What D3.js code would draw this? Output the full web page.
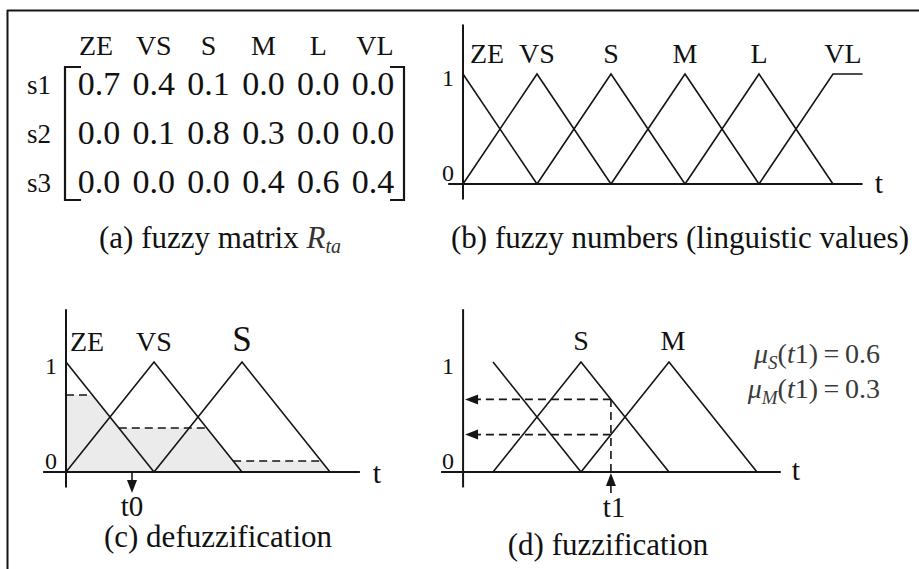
<!DOCTYPE html>
<html><head><meta charset="utf-8">
<script src="https://cdn.jsdelivr.net/npm/d3@7"></script>
<style>
html,body{margin:0;padding:0;background:#fff;}
svg{display:block;}
text{font-family:"Liberation Serif","Times New Roman",serif;fill:#111;}
</style></head><body>
<svg id="fig" width="919" height="569"></svg>
<script>
// linguistic terms and the fuzzy relation matrix R_ta
const terms = ["ZE", "VS", "S", "M", "L", "VL"];
const sensors = ["s1", "s2", "s3"];
const matrixRows = [
  [0.7, 0.4, 0.1, 0.0, 0.0, 0.0],
  [0.0, 0.1, 0.8, 0.3, 0.0, 0.0],
  [0.0, 0.0, 0.0, 0.4, 0.6, 0.4]
];
// centres of the triangular fuzzy numbers on the t axis
const termCentres = [0, 1, 2, 3, 4, 5];
const tEndB = 5.4;
// defuzzification: clip levels come from row s1
const defuzzTerms = ["ZE", "VS", "S"];
const defuzzCentres = [0, 1, 2];
const defuzzLevels = [0.7, 0.4, 0.1];
const t0 = 0.75;
// fuzzification of a crisp value t1
const fuzzTerms = ["VS", "S", "M"];
const fuzzCentres = [1, 2, 3];
const fuzzLabels = ["", "S", "M"];
const t1 = 2.34;
const fuzzResults = [{sub: "S", value: "0.6"}, {sub: "M", value: "0.3"}];
const yTicks = [0, 1];

const svg = d3.select("#fig");
const INK = "#151515";
const LW = 1.6;
const DASH = "8,5";
const tri = (c, t) => Math.max(0, 1 - Math.abs(t - c));

// frame
svg.append("line").attr("x1", 7).attr("x2", 919).attr("y1", 10.5).attr("y2", 10.5)
  .attr("stroke", INK).attr("stroke-width", 2);
svg.append("line").attr("x1", 7.5).attr("x2", 7.5).attr("y1", 10).attr("y2", 569)
  .attr("stroke", INK).attr("stroke-width", 2);

function arrowHead(g, tipX, tipY, dir) {
  const L = 13, W = 5;
  let pts;
  if (dir === "left") pts = [[tipX, tipY], [tipX + L, tipY - W], [tipX + L, tipY + W]];
  else if (dir === "down") pts = [[tipX, tipY], [tipX - W, tipY - L], [tipX + W, tipY - L]];
  else pts = [[tipX, tipY], [tipX - W, tipY + L], [tipX + W, tipY + L]];
  g.append("polygon").attr("points", pts.map(p => p.join(",")).join(" ")).attr("fill", INK);
}

function axesFrame(g, x, y, tMin, tMax, t0v, yMin, yMax, tx, ty) {
  g.append("line").attr("x1", x(tMin)).attr("x2", x(tMax)).attr("y1", y(0)).attr("y2", y(0))
    .attr("stroke", INK).attr("stroke-width", 2);
  g.append("line").attr("x1", x(t0v)).attr("x2", x(t0v)).attr("y1", y(yMin)).attr("y2", y(yMax))
    .attr("stroke", INK).attr("stroke-width", 2);
  g.selectAll("text.tick").data(yTicks).join("text").attr("class", "tick")
    .attr("x", x(t0v) - 15).attr("y", d => y(d) + (d === 1 ? 12 : -3))
    .attr("text-anchor", "middle").attr("font-size", 24).text(d => d);
  g.append("text").attr("x", tx).attr("y", ty).attr("text-anchor", "middle")
    .attr("font-size", 30).text("t");
}

const line = (x, y) => d3.line().x(d => x(d[0])).y(d => y(d[1]));

/* (a) fuzzy matrix */
{
  const g = svg.append("g");
  const col = d3.scalePoint().domain(terms).range([99, 373]);
  const row = d3.scalePoint().domain(sensors).range([95, 193]);
  g.selectAll("text.hd").data(terms).join("text").attr("class", "hd")
    .attr("x", d => col(d) - (d === "ZE" ? 3 : 0) + (d === "VL" ? 2 : 0)).attr("y", 55)
    .attr("text-anchor", "middle").attr("font-size", 28).text(d => d);
  g.selectAll("text.rw").data(sensors).join("text").attr("class", "rw")
    .attr("x", 39).attr("y", d => row(d) - 1)
    .attr("text-anchor", "middle").attr("font-size", 27).text(d => d);
  matrixRows.forEach((vals, i) => {
    g.selectAll("text.v" + i).data(vals).join("text").attr("class", "v" + i)
      .attr("x", (d, j) => col(terms[j])).attr("y", row(sensors[i]))
      .attr("text-anchor", "middle").attr("font-size", 34).text(d => d.toFixed(1));
  });
  const top = row(sensors[0]) - 28, bot = row(sensors[2]) + 7;
  const lx = col(terms[0]) - 34, rx = col(terms[terms.length - 1]) + 31;
  g.append("path").attr("d", `M${lx + 16},${top}H${lx}V${bot}H${lx + 16}`)
    .attr("fill", "none").attr("stroke", INK).attr("stroke-width", 2.2);
  g.append("path").attr("d", `M${rx - 14},${top}H${rx}V${bot}H${rx - 14}`)
    .attr("fill", "none").attr("stroke", INK).attr("stroke-width", 2.2);
  const cap = g.append("text").attr("x", 220).attr("y", 248).attr("text-anchor", "middle")
    .attr("font-size", 31);
  cap.append("tspan").text("(a) fuzzy matrix ");
  cap.append("tspan").attr("font-style", "italic").attr("fill", "#333").text("R");
  cap.append("tspan").attr("font-style", "italic").attr("font-size", 20).attr("dy", 5)
    .attr("fill", "#333").text("ta");
}

/* (b) fuzzy numbers */
{
  const g = svg.append("g");
  const x = d3.scaleLinear().domain([0, 1]).range([463, 537]);
  const y = d3.scaleLinear().domain([0, 1]).range([184, 74]);
  axesFrame(g, x, y, -0.2, tEndB, 0, -0.14, 1.45, 879, 193);
  const last = termCentres.length - 1;
  termCentres.forEach((c, i) => {
    let pts;
    if (i === 0) pts = [[c, 1], [c + 1, 0]];
    else if (i === last) pts = [[c - 1, 0], [c, 1], [tEndB, 1]];
    else pts = [[c - 1, 0], [c, 1], [c + 1, 0]];
    g.append("path").attr("d", line(x, y)(pts)).attr("fill", "none")
      .attr("stroke", INK).attr("stroke-width", LW);
  });
  g.selectAll("text.lb").data(terms).join("text").attr("class", "lb")
    .attr("x", (d, i) => x(termCentres[i]) + (i === 0 ? 24 : i === last ? 10 : 0))
    .attr("y", 63).attr("text-anchor", "middle").attr("font-size", 28).text(d => d);
  g.append("text").attr("x", 680).attr("y", 248).attr("text-anchor", "middle")
    .attr("font-size", 31).text("(b) fuzzy numbers (linguistic values)");
}

/* (c) defuzzification */
{
  const g = svg.append("g");
  const x = d3.scaleLinear().domain([0, 1]).range([66, 154]);
  const y = d3.scaleLinear().domain([0, 1]).range([472, 362]);
  const mf = (i, t) => i === 0 ? (t >= 0 ? Math.max(0, 1 - t) : 0) : tri(defuzzCentres[i], t);
  const union = t => d3.max(defuzzLevels, (h, i) => Math.min(h, mf(i, t)));
  const tEnd = defuzzCentres[defuzzCentres.length - 1] + 1;
  const ts = d3.range(0, tEnd + 1e-9, 0.002);
  g.append("path")
    .attr("d", d3.area().x(t => x(t)).y0(y(0)).y1(t => y(union(t)))(ts))
    .attr("fill", "#ebebeb");
  defuzzLevels.forEach((h, i) => {
    const on = ts.filter(t => mf(i, t) >= h - 1e-6 && Math.abs(union(t) - h) < 1e-6);
    if (!on.length) return;
    g.append("line").attr("x1", x(d3.min(on))).attr("x2", x(d3.max(on)))
      .attr("y1", y(h)).attr("y2", y(h))
      .attr("stroke", INK).attr("stroke-width", LW).attr("stroke-dasharray", DASH);
  });
  axesFrame(g, x, y, -0.26, 3.34, 0, -0.14, 1.48, 377, 483);
  defuzzCentres.forEach((c, i) => {
    const pts = i === 0 ? [[c, 1], [c + 1, 0]] : [[c - 1, 0], [c, 1], [c + 1, 0]];
    g.append("path").attr("d", line(x, y)(pts)).attr("fill", "none")
      .attr("stroke", INK).attr("stroke-width", LW);
  });
  g.selectAll("text.lb").data(defuzzTerms).join("text").attr("class", "lb")
    .attr("x", (d, i) => x(defuzzCentres[i]) + (i === 0 ? 21 : 0))
    .attr("y", 351).attr("text-anchor", "middle")
    .attr("font-size", (d, i) => i === 2 ? 35 : 28).text(d => d);
  // crisp output t0
  g.append("line").attr("x1", x(t0)).attr("x2", x(t0)).attr("y1", y(0)).attr("y2", y(-0.1))
    .attr("stroke", INK).attr("stroke-width", LW);
  arrowHead(g, x(t0), y(-0.19), "down");
  g.append("text").attr("x", x(t0)).attr("y", 516).attr("text-anchor", "middle")
    .attr("font-size", 29).text("t0");
  g.append("text").attr("x", 218).attr("y", 547).attr("text-anchor", "middle")
    .attr("font-size", 31).text("(c) defuzzification");
}

/* (d) fuzzification */
{
  const g = svg.append("g");
  const x = d3.scaleLinear().domain([1, 2]).range([493, 581]);
  const y = d3.scaleLinear().domain([0, 1]).range([472, 362]);
  const tAxis = 0.66;
  axesFrame(g, x, y, 0.41, 4.27, tAxis, -0.14, 1.48, 796, 480);
  fuzzCentres.forEach((c, i) => {
    const pts = i === 0 ? [[c, 1], [c + 1, 0]] : [[c - 1, 0], [c, 1], [c + 1, 0]];
    g.append("path").attr("d", line(x, y)(pts)).attr("fill", "none")
      .attr("stroke", INK).attr("stroke-width", LW);
  });
  g.selectAll("text.lb").data(fuzzLabels).join("text").attr("class", "lb")
    .attr("x", (d, i) => x(fuzzCentres[i]) + (i === 2 ? 4 : 0))
    .attr("y", 350).attr("text-anchor", "middle").attr("font-size", 28).text(d => d);
  const mus = [tri(fuzzCentres[1], t1), tri(fuzzCentres[2], t1)];
  // vertical guide at t1 and the membership read-outs
  g.append("line").attr("x1", x(t1)).attr("x2", x(t1)).attr("y1", y(0)).attr("y2", y(d3.max(mus)))
    .attr("stroke", INK).attr("stroke-width", LW).attr("stroke-dasharray", DASH);
  mus.forEach(m => {
    g.append("line").attr("x1", x(t1)).attr("x2", x(tAxis) + 12).attr("y1", y(m)).attr("y2", y(m))
      .attr("stroke", INK).attr("stroke-width", LW).attr("stroke-dasharray", DASH);
    arrowHead(g, x(tAxis) + 2, y(m), "left");
  });
  g.append("line").attr("x1", x(t1)).attr("x2", x(t1)).attr("y1", y(-0.19)).attr("y2", y(-0.1))
    .attr("stroke", INK).attr("stroke-width", LW);
  arrowHead(g, x(t1), y(0) + 1, "up");
  g.append("text").attr("x", x(t1) + 3).attr("y", 517).attr("text-anchor", "middle")
    .attr("font-size", 29).text("t1");
  fuzzResults.forEach((r, i) => {
    const tx = g.append("text").attr("x", 880).attr("y", 363 + i * 35).attr("text-anchor", "end")
      .attr("font-size", 28).style("fill", "#3a3a3a");
    tx.append("tspan").attr("font-style", "italic").text("\u03bc");
    tx.append("tspan").attr("font-style", "italic").attr("font-size", 19).attr("dy", 6).text(r.sub);
    tx.append("tspan").attr("dy", -6).text("(");
    tx.append("tspan").attr("font-style", "italic").text("t");
    tx.append("tspan").text("1)\u2009=\u20090." + r.value.split(".")[1]);
  });
  g.append("text").attr("x", 608).attr("y", 555).attr("text-anchor", "middle")
    .attr("font-size", 31).text("(d) fuzzification");
}
</script>
</body></html>
